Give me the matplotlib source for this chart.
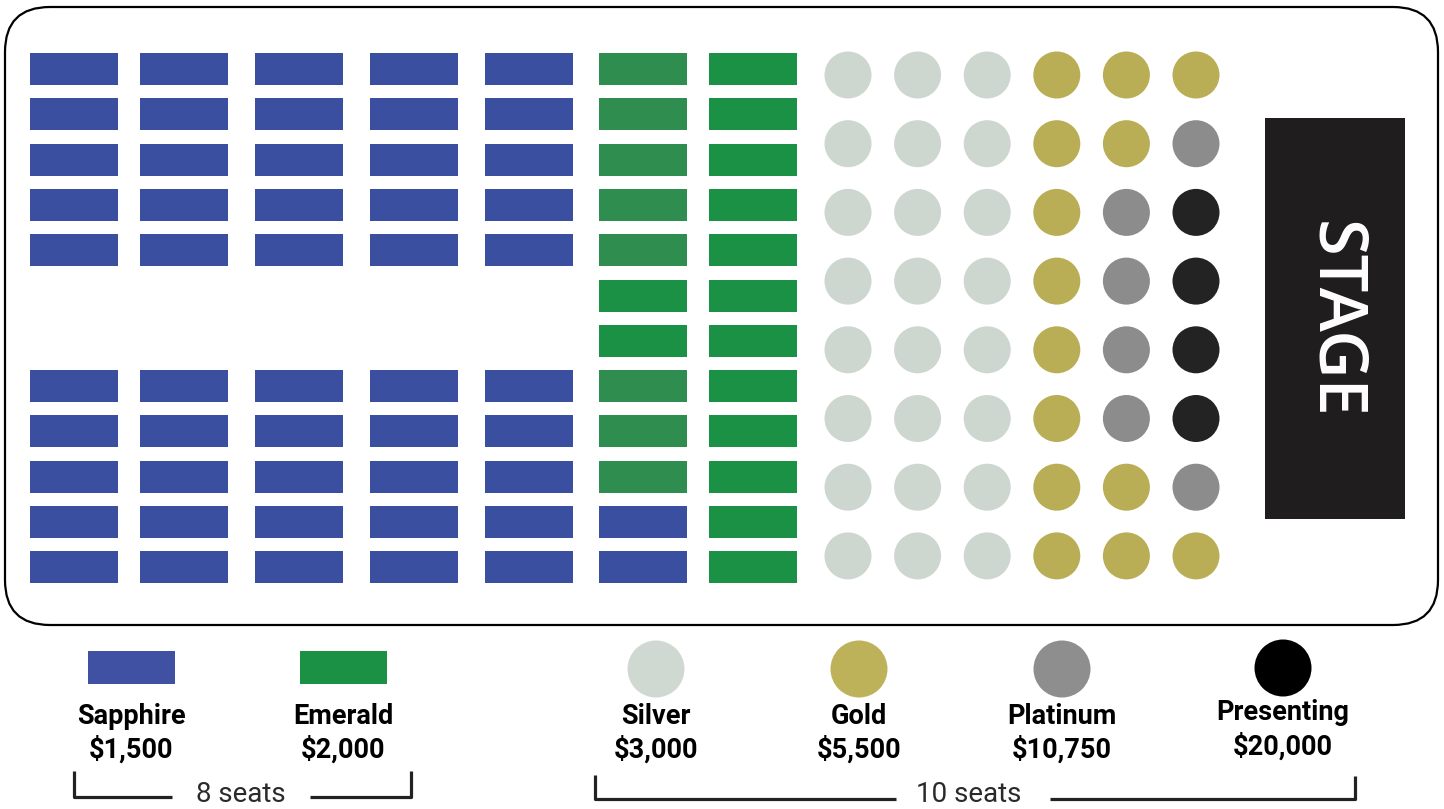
import matplotlib.pyplot as plt
from matplotlib.patches import Rectangle, Circle, FancyBboxPatch

# tiers shown in the legend
tiers = ['Sapphire', 'Emerald', 'Silver', 'Gold', 'Platinum', 'Presenting']
prices = ['$1,500', '$2,000', '$3,000', '$5,500', '$10,750', '$20,000']
groups = ['8 seats', '10 seats']

# rectangular tables, one list per column (far side -> stage), 12 rows top->bottom
# S = sapphire, E = emerald, e = emerald (darker print), None = aisle
table_cols = [
    ['S'] * 5 + [None] * 2 + ['S'] * 5,
    ['S'] * 5 + [None] * 2 + ['S'] * 5,
    ['S'] * 5 + [None] * 2 + ['S'] * 5,
    ['S'] * 5 + [None] * 2 + ['S'] * 5,
    ['S'] * 5 + [None] * 2 + ['S'] * 5,
    ['e'] * 5 + ['E'] * 2 + ['e'] * 3 + ['S'] * 2,
    ['E'] * 12,
]

# round tables, one list per column, 8 rows top->bottom
# Si = silver, G = gold, P = platinum, X = presenting
round_cols = [
    ['Si'] * 8,
    ['Si'] * 8,
    ['Si'] * 8,
    ['G'] * 8,
    ['G', 'G', 'P', 'P', 'P', 'P', 'G', 'G'],
    ['G', 'P', 'X', 'X', 'X', 'X', 'P', 'G'],
]

seat_colors = {'S': '#3b4fa0', 'E': '#1a9144', 'e': '#2f8d50',
               'Si': '#cdd7cf', 'G': '#b9ae56', 'P': '#8c8c8c', 'X': '#232323'}
legend_colors = ['#4050a3', '#1a9144', '#cfd9d1', '#bdb15a', '#8e8e8e', '#000000']
legend_shape = ['rect', 'rect', 'circle', 'circle', 'circle', 'circle']

fig = plt.figure(figsize=(14.44, 8.09), dpi=100)
ax = fig.add_axes([0, 0, 1, 1])
ax.set_xlim(0, 1444)
ax.set_ylim(809, 0)
ax.axis('off')

# outer frame
ax.add_patch(FancyBboxPatch((5, 7), 1433, 618, boxstyle='round,pad=0,rounding_size=45',
                            fc='none', ec='black', lw=1.6))

# rectangular tables
col_left = [30, 140, 255, 370, 485, 599, 709]
for i, col in enumerate(table_cols):
    for j, t in enumerate(col):
        if t is None:
            continue
        ax.add_patch(Rectangle((col_left[i], 53 + j * 45.3), 88, 32,
                               fc=seat_colors[t], ec='none'))

# round tables
for i, col in enumerate(round_cols):
    for j, t in enumerate(col):
        ax.add_patch(Circle((848 + i * 69.6, 75 + j * 68.7), 23.5,
                            fc=seat_colors[t], ec='none'))

# stage
ax.add_patch(Rectangle((1265, 118), 140, 401, fc='#1f1d1d', ec='none'))
ax.text(1334, 320, 'STAGE', rotation=-90, color='white', fontsize=48,
        fontweight='semibold', family=['Open Sans', 'DejaVu Sans'],
        ha='center', va='center')

# legend
legend_x = [131, 343, 656, 859, 1062, 1283]
for k, name in enumerate(tiers):
    x = legend_x[k]
    dy = -3 if name == 'Presenting' else 0
    if legend_shape[k] == 'rect':
        ax.add_patch(Rectangle((x - 43.5, 651), 87, 33, fc=legend_colors[k], ec='none'))
    else:
        ax.add_patch(Circle((x, 669 + dy / 3), 28.5, fc=legend_colors[k], ec='none'))
    ax.text(x, 716 + dy, name, ha='center', va='center', fontsize=19.5,
            fontweight='bold', family=['Roboto', 'DejaVu Sans'], color='black')
    ax.text(x, 750 + dy, prices[k], ha='center', va='center', fontsize=19.5,
            fontweight='bold', family=['Roboto', 'DejaVu Sans'], color='black')

# brackets under the legend
lc = '#222222'
ax.plot([74, 74, 172], [771, 797, 797], color=lc, lw=2.3, solid_capstyle='butt')
ax.plot([310, 411, 411], [797, 797, 771], color=lc, lw=2.3, solid_capstyle='butt')
ax.text(241, 808, groups[0], ha='center', va='bottom', fontsize=20,
        family=['Roboto', 'DejaVu Sans'], color='#2a2a2a')
ax.plot([595, 595, 896], [775, 799, 799], color=lc, lw=2.3, solid_capstyle='butt')
ax.plot([1050, 1355, 1355], [799, 799, 776], color=lc, lw=2.3, solid_capstyle='butt')
ax.text(969, 808, groups[1], ha='center', va='bottom', fontsize=20,
        family=['Roboto', 'DejaVu Sans'], color='#2a2a2a')

plt.savefig('out.png', dpi=100)
